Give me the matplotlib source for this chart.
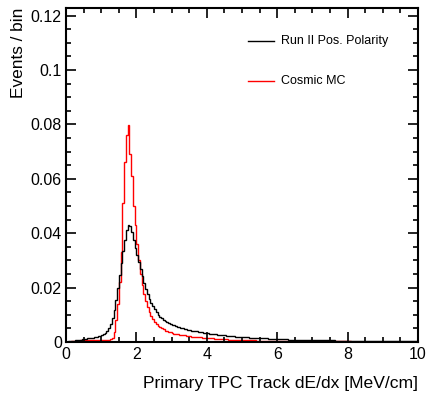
import numpy as np
import matplotlib
matplotlib.use("Agg")
import matplotlib.pyplot as plt
from matplotlib.ticker import MultipleLocator, FuncFormatter
from matplotlib.lines import Line2D

plt.rcParams['font.family'] = ['Liberation Sans', 'DejaVu Sans']

bin_width = 0.05
x_min, x_max = 0.0, 10.0

# Run II Pos. Polarity (black), bins of 0.05 from 0 to 10
data_counts = [
    0.0001, 0.0002, 0.0003, 0.0004, 0.0005, 0.0006, 0.0007, 0.0008, 0.0009, 0.0010,
    0.0011, 0.0012, 0.0013, 0.0014, 0.0015, 0.0016, 0.0017, 0.0019, 0.0021, 0.0023,
    0.0026, 0.0029, 0.0034, 0.0040, 0.0050, 0.0065, 0.0088, 0.0118, 0.0155, 0.0200,
    0.0245, 0.0290, 0.0335, 0.0376, 0.0410, 0.0431, 0.0428, 0.0405, 0.0375, 0.0345,
    0.0320, 0.0295, 0.0268, 0.0241, 0.0216, 0.0195, 0.0176, 0.0159, 0.0144, 0.0131,
    0.0120, 0.0110, 0.0101, 0.0093, 0.0087, 0.0082, 0.0077, 0.0073, 0.0069, 0.0066,
    0.0063, 0.0061, 0.0058, 0.0056, 0.0054, 0.0052, 0.0050, 0.0048, 0.0047, 0.0045,
    0.0044, 0.0042, 0.0041, 0.0040, 0.0039, 0.0037, 0.0036, 0.0035, 0.0034, 0.0033,
    0.0032, 0.0031, 0.0030, 0.0029, 0.0028, 0.0028, 0.0027, 0.0026, 0.0025, 0.0025,
    0.0024, 0.0023, 0.0023, 0.0022, 0.0021, 0.0021, 0.0020, 0.0020, 0.0019, 0.0019,
    0.0018, 0.0018, 0.0017, 0.0017, 0.0016, 0.0016, 0.0016, 0.0015, 0.0015, 0.0014,
    0.0014, 0.0014, 0.0013, 0.0013, 0.0013, 0.0012, 0.0012, 0.0012, 0.0011, 0.0011,
    0.0011, 0.0011, 0.0010, 0.0010, 0.0010, 0.0010, 0.0009, 0.0009, 0.0009, 0.0009,
    0.0009, 0.0008, 0.0008, 0.0008, 0.0008, 0.0008, 0.0008, 0.0007, 0.0007, 0.0007,
    0.0007, 0.0007, 0.0007, 0.0007, 0.0006, 0.0006, 0.0006, 0.0006, 0.0006, 0.0006,
    0.0006, 0.0006, 0.0006, 0.0005, 0.0005, 0.0005, 0.0005, 0.0005, 0.0005, 0.0005,
    0.0005, 0.0005, 0.0005, 0.0005, 0.0005, 0.0004, 0.0004, 0.0004, 0.0004, 0.0004,
    0.0004, 0.0004, 0.0004, 0.0004, 0.0004, 0.0004, 0.0004, 0.0004, 0.0004, 0.0004,
    0.0004, 0.0004, 0.0004, 0.0004, 0.0003, 0.0003, 0.0003, 0.0003, 0.0003, 0.0003,
    0.0003, 0.0003, 0.0003, 0.0003, 0.0003, 0.0003, 0.0003, 0.0003, 0.0003, 0.0003,
]

# Cosmic MC (red)
mc_counts = [
    0.0000, 0.0000, 0.0001, 0.0002, 0.0003, 0.0004, 0.0005, 0.0005, 0.0006, 0.0006,
    0.0007, 0.0007, 0.0007, 0.0007, 0.0007, 0.0007, 0.0007, 0.0007, 0.0007, 0.0007,
    0.0007, 0.0007, 0.0007, 0.0008, 0.0009, 0.0012, 0.0015, 0.0037, 0.0080, 0.0140,
    0.0220, 0.0330, 0.0510, 0.0660, 0.0762, 0.0799, 0.0690, 0.0610, 0.0500, 0.0430,
    0.0360, 0.0300, 0.0250, 0.0210, 0.0175, 0.0150, 0.0128, 0.0110, 0.0096, 0.0084,
    0.0075, 0.0067, 0.0060, 0.0055, 0.0050, 0.0046, 0.0042, 0.0039, 0.0037, 0.0035,
    0.0033, 0.0031, 0.0029, 0.0028, 0.0027, 0.0026, 0.0025, 0.0024, 0.0023, 0.0022,
    0.0021, 0.0020, 0.0019, 0.0019, 0.0018, 0.0017, 0.0017, 0.0016, 0.0015, 0.0015,
    0.0014, 0.0014, 0.0013, 0.0013, 0.0012, 0.0012, 0.0011, 0.0011, 0.0011, 0.0010,
    0.0010, 0.0010, 0.0009, 0.0009, 0.0009, 0.0008, 0.0008, 0.0008, 0.0008, 0.0007,
    0.0007, 0.0007, 0.0007, 0.0006, 0.0006, 0.0006, 0.0006, 0.0006, 0.0005, 0.0005,
    0.0005, 0.0005, 0.0005, 0.0005, 0.0005, 0.0004, 0.0004, 0.0004, 0.0004, 0.0004,
    0.0004, 0.0004, 0.0004, 0.0004, 0.0003, 0.0003, 0.0003, 0.0003, 0.0003, 0.0003,
    0.0003, 0.0003, 0.0003, 0.0003, 0.0003, 0.0003, 0.0002, 0.0002, 0.0002, 0.0002,
    0.0002, 0.0002, 0.0002, 0.0002, 0.0002, 0.0002, 0.0002, 0.0002, 0.0002, 0.0002,
    0.0002, 0.0002, 0.0002, 0.0002, 0.0002, 0.0002, 0.0002, 0.0002, 0.0002, 0.0002,
    0.0002, 0.0002, 0.0001, 0.0001, 0.0001, 0.0001, 0.0001, 0.0001, 0.0001, 0.0001,
    0.0001, 0.0001, 0.0001, 0.0001, 0.0001, 0.0001, 0.0001, 0.0001, 0.0001, 0.0001,
    0.0001, 0.0001, 0.0001, 0.0001, 0.0001, 0.0001, 0.0001, 0.0001, 0.0001, 0.0001,
    0.0001, 0.0001, 0.0001, 0.0001, 0.0001, 0.0001, 0.0001, 0.0001, 0.0001, 0.0001,
]

labels = ["Run II Pos. Polarity", "Cosmic MC"]
colors = ["black", "#ff0000"]
x_label = "Primary TPC Track dE/dx [MeV/cm]"
y_label = "Events / bin"

edges = np.linspace(x_min, x_max, len(data_counts) + 1)

fig = plt.figure(figsize=(4.27, 3.93), dpi=100)
ax = fig.add_axes([66/427, 1 - 342/393, 352/427, 334/393])

ax.stairs(mc_counts, edges, color=colors[1], lw=1.0, baseline=None)
ax.stairs(data_counts, edges, color=colors[0], lw=1.0, baseline=None)

ax.set_xlim(x_min, x_max)
ax.set_ylim(0, 0.1228)

ax.xaxis.set_major_locator(MultipleLocator(2))
ax.xaxis.set_minor_locator(MultipleLocator(0.5))
ax.yaxis.set_major_locator(MultipleLocator(0.02))
ax.yaxis.set_minor_locator(MultipleLocator(0.005))
ax.xaxis.set_major_formatter(FuncFormatter(lambda v, p: f"{v:g}"))
ax.yaxis.set_major_formatter(FuncFormatter(lambda v, p: f"{round(v, 4):g}"))

ax.tick_params(which='both', direction='in', top=True, right=True, width=1.2,
               labelsize=11.5, colors='black')
ax.tick_params(which='major', length=7)
ax.tick_params(which='minor', length=3.5)
ax.tick_params(axis='x', pad=3.5)
ax.tick_params(axis='y', pad=3)
for s in ax.spines.values():
    s.set_linewidth(1.5)

ax.set_xlabel(x_label, fontsize=12.6, loc='right', labelpad=10)
ax.set_ylabel(y_label, fontsize=12.4, loc='top', labelpad=3)

# legend
leg_y = [0.902, 0.781]
for lab, col, yy in zip(labels, colors, leg_y):
    ax.add_line(Line2D([0.517, 0.591], [yy, yy], transform=ax.transAxes,
                       color=col, lw=1.0))
    ax.text(0.611, yy, lab, transform=ax.transAxes, fontsize=9.0,
            va='center', ha='left')

fig.savefig("out.png", dpi=100)
